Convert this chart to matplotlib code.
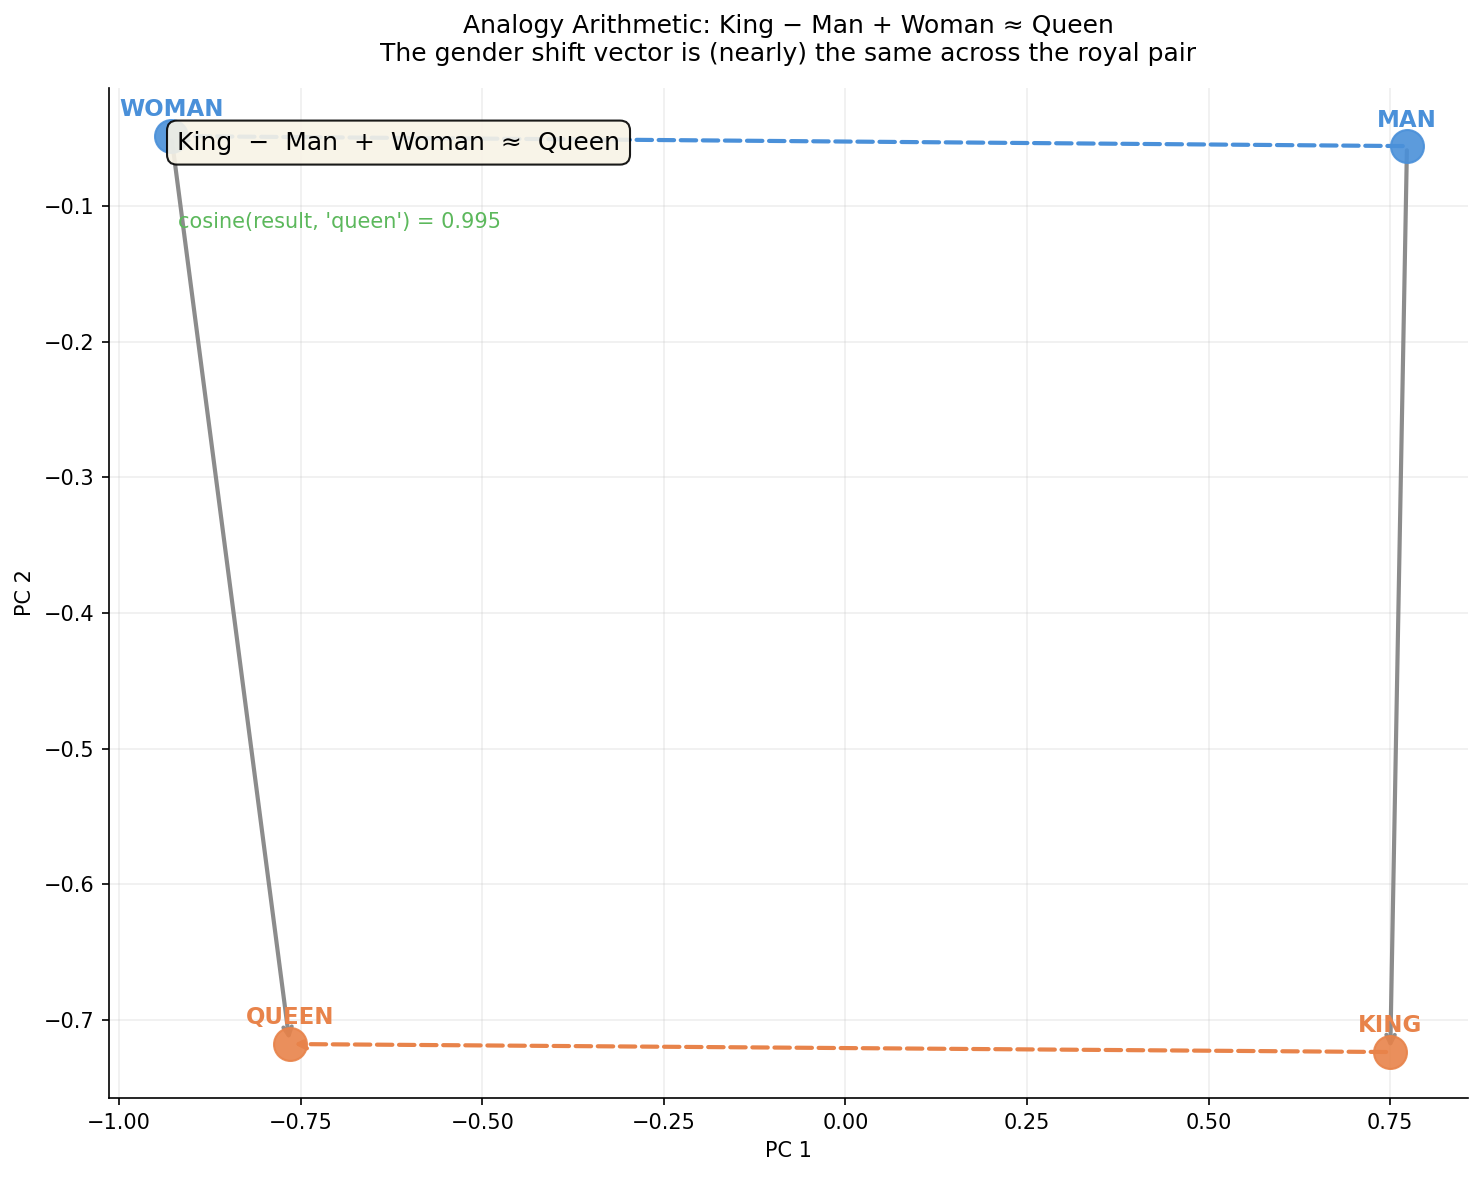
import matplotlib.pyplot as plt

# word positions in the 2-D projection
words = ["woman", "man", "queen", "king"]
pc1 = [-0.928, 0.773, -0.765, 0.750]
pc2 = [-0.0484, -0.0558, -0.7177, -0.7236]
cos_sim = 0.995

blue = "#4a90d9"
orange = "#e8834a"
colors = {"woman": blue, "man": blue, "queen": orange, "king": orange}

fig = plt.figure(figsize=(1484 / 150, 1177 / 150), dpi=150)
ax = fig.add_axes([0.0735, 0.0671, 0.9157, 0.8581])

pos = {w: (x, y) for w, x, y in zip(words, pc1, pc2)}

# gender vectors (dashed)
ax.annotate("", xy=pos["woman"], xytext=pos["man"],
            arrowprops=dict(arrowstyle="->", color=blue, lw=2, ls="--"))
ax.annotate("", xy=pos["queen"], xytext=pos["king"],
            arrowprops=dict(arrowstyle="->", color=orange, lw=2, ls="--"))
# royal shift (gray)
ax.annotate("", xy=pos["queen"], xytext=pos["woman"],
            arrowprops=dict(arrowstyle="->", color="gray", lw=2, alpha=0.9))
ax.annotate("", xy=pos["king"], xytext=pos["man"],
            arrowprops=dict(arrowstyle="->", color="gray", lw=2, alpha=0.9))

for w in words:
    x, y = pos[w]
    ax.scatter(x, y, s=250, color=colors[w], alpha=0.9, zorder=5)
    ax.annotate(w.upper(), (x, y), textcoords="offset points", xytext=(0, 7),
                ha="center", va="bottom", fontsize=11, fontweight="bold",
                color=colors[w])

ax.text(0.05, 0.946, "King  \u2212  Man  +  Woman  \u2248  Queen",
        transform=ax.transAxes, fontsize=12, va="center", ha="left", zorder=6,
        bbox=dict(boxstyle="round,pad=0.4", facecolor="#f8f3e6",
                  edgecolor="black", alpha=0.9))
ax.text(0.0508, 0.867, f"cosine(result, 'queen') = {cos_sim:.3f}",
        transform=ax.transAxes, fontsize=10, va="center", ha="left",
        color="#5cb85c")

ax.set_xlim(-1.0138, 0.857)
ax.set_ylim(-0.7575, -0.013)
ax.set_xlabel("PC 1")
ax.set_ylabel("PC 2")
ax.set_title("Analogy Arithmetic: King \u2212 Man + Woman \u2248 Queen\n"
             "The gender shift vector is (nearly) the same across the royal pair",
             fontsize=12, pad=13)
ax.grid(True, alpha=0.2)
ax.spines["top"].set_visible(False)
ax.spines["right"].set_visible(False)

fig.savefig("out.png", dpi=150)
